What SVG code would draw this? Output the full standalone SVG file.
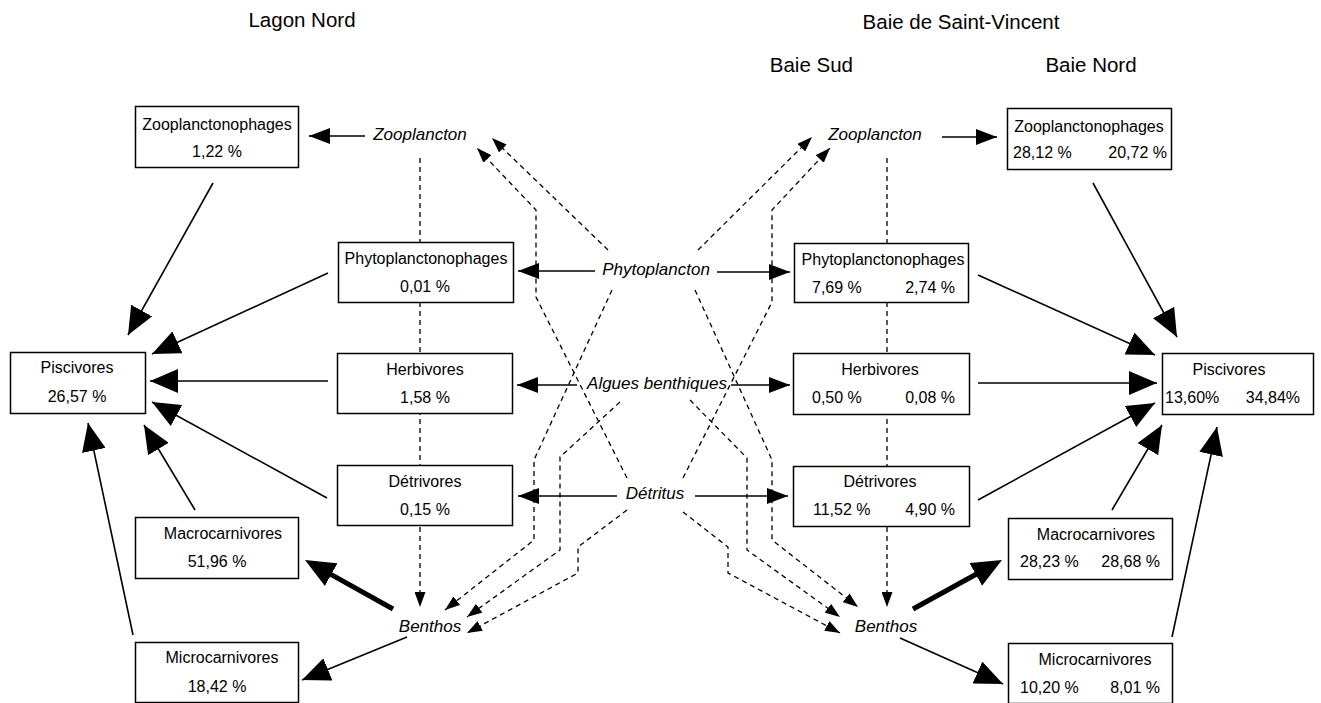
<svg xmlns="http://www.w3.org/2000/svg" width="1321" height="703" viewBox="0 0 1321 703">
<style>
text{font-family:"Liberation Sans",Arial,sans-serif;fill:#000}
.t{font-size:16px}
.h{font-size:20.5px}
.i{font-size:17px;font-style:italic}
.box{fill:#fff;stroke:#000;stroke-width:1.5}
.s{fill:none;stroke:#000;stroke-width:1.6}
.th{fill:none;stroke:#000;stroke-width:5}
.d{fill:none;stroke:#000;stroke-width:1.3;stroke-dasharray:5 4}
</style>
<defs>
<marker id="ab" markerUnits="userSpaceOnUse" markerWidth="28" markerHeight="24" refX="28" refY="12" orient="auto"><path d="M0,0 L28,12 L0,24 z"/></marker>
<marker id="at" markerUnits="userSpaceOnUse" markerWidth="30" markerHeight="26" refX="2" refY="13" orient="auto"><path d="M0,0 L30,13 L0,26 z"/></marker>
<marker id="am" markerUnits="userSpaceOnUse" markerWidth="21" markerHeight="16" refX="21" refY="8" orient="auto"><path d="M0,0 L21,8 L0,16 z"/></marker>
<marker id="as" markerUnits="userSpaceOnUse" markerWidth="15" markerHeight="11" refX="15" refY="5.5" orient="auto"><path d="M0,0 L15,5.5 L0,11 z"/></marker>
</defs>

<g id="headers">
<text class="h" x="302" y="27" text-anchor="middle">Lagon Nord</text>
<text class="h" x="961" y="29" text-anchor="middle">Baie de Saint-Vincent</text>
<text class="h" x="853" y="72" text-anchor="end">Baie Sud</text>
<text class="h" x="1091" y="72" text-anchor="middle">Baie Nord</text>
</g>

<g id="connectors">
<!-- dashed verticals -->
<path class="d" d="M420,158 V607" marker-end="url(#as)"/>
<path class="d" d="M887,158 V607" marker-end="url(#as)"/>
<!-- left dashed -->
<path class="d" d="M608,250 L492,138" marker-end="url(#as)"/>
<path class="d" d="M627,478 L536,297 L536,210 L477,148" marker-end="url(#as)"/>
<path class="d" d="M612,290 L534,460 L534,540 L445,610" marker-end="url(#as)"/>
<path class="d" d="M620,402 L560,457 L560,550 L467,617" marker-end="url(#as)"/>
<path class="d" d="M627,510 L578,547 L578,573 L467,633" marker-end="url(#as)"/>
<!-- right dashed -->
<path class="d" d="M698,250 L812,137" marker-end="url(#as)"/>
<path class="d" d="M683,478 L772,302 L772,210 L830,148" marker-end="url(#as)"/>
<path class="d" d="M695,290 L772,460 L772,540 L858,607" marker-end="url(#as)"/>
<path class="d" d="M690,400 L747,458 L747,550 L840,617" marker-end="url(#as)"/>
<path class="d" d="M683,512 L728,547 L728,573 L840,633" marker-end="url(#as)"/>
<!-- horizontal source arrows -->
<path class="s" d="M365,136 L309,136" marker-end="url(#am)"/>
<path class="s" d="M595,271 L518,271" marker-end="url(#am)"/>
<path class="s" d="M577,385 L517,385" marker-end="url(#am)"/>
<path class="s" d="M617,496 L518,496" marker-end="url(#am)"/>
<path class="s" d="M942,137 L997,137" marker-end="url(#am)"/>
<path class="s" d="M717,272 L790,272" marker-end="url(#am)"/>
<path class="s" d="M731,385 L790,385" marker-end="url(#am)"/>
<path class="s" d="M695,496 L788,496" marker-end="url(#am)"/>
<!-- left to piscivores -->
<path class="s" d="M213,183 L128,335" marker-end="url(#ab)"/>
<path class="s" d="M328,273 L152,354" marker-end="url(#ab)"/>
<path class="s" d="M328,381 L150,381" marker-end="url(#ab)"/>
<path class="s" d="M327,498 L152,402" marker-end="url(#ab)"/>
<path class="s" d="M195,510 L144,425" marker-end="url(#ab)"/>
<path class="s" d="M133,635 L88,423" marker-end="url(#ab)"/>
<path class="th" d="M393,609 L329.5,573.6" marker-end="url(#at)"/>
<path class="s" d="M407,637 L302,680" marker-end="url(#ab)"/>
<!-- right to piscivores -->
<path class="s" d="M1093,183 L1177,337" marker-end="url(#ab)"/>
<path class="s" d="M978,275 L1155,355" marker-end="url(#ab)"/>
<path class="s" d="M978,383 L1157,383" marker-end="url(#ab)"/>
<path class="s" d="M978,500 L1155,403" marker-end="url(#ab)"/>
<path class="s" d="M1112,510 L1162,425" marker-end="url(#ab)"/>
<path class="s" d="M1172,637 L1217,427" marker-end="url(#ab)"/>
<path class="th" d="M913,609 L977.5,573.5" marker-end="url(#at)"/>
<path class="s" d="M900,638 L1003,684" marker-end="url(#ab)"/>
</g>

<g id="src-zooplancton-l"><text class="i" x="420" y="140" text-anchor="middle">Zooplancton</text></g>
<g id="src-zooplancton-r"><text class="i" x="875" y="140" text-anchor="middle">Zooplancton</text></g>
<g id="src-phytoplancton"><text class="i" x="656" y="275" text-anchor="middle">Phytoplancton</text></g>
<g id="src-algues"><text class="i" x="657" y="389" text-anchor="middle">Algues benthiques</text></g>
<g id="src-detritus"><text class="i" x="655" y="499" text-anchor="middle">Détritus</text></g>
<g id="benthos-l"><text class="i" x="430" y="632" text-anchor="middle">Benthos</text></g>
<g id="benthos-r"><text class="i" x="886" y="632" text-anchor="middle">Benthos</text></g>

<!-- left nodes -->
<g id="zoo-l"><rect class="box" x="135.5" y="106.5" width="163" height="61"/>
<text class="t" x="217" y="130" text-anchor="middle">Zooplanctonophages</text>
<text class="t" x="217" y="157" text-anchor="middle">1,22 %</text></g>
<g id="phyto-l"><rect class="box" x="338.5" y="242.5" width="175" height="60"/>
<text class="t" x="426" y="264" text-anchor="middle">Phytoplanctonophages</text>
<text class="t" x="425" y="292" text-anchor="middle">0,01 %</text></g>
<g id="herb-l"><rect class="box" x="337.5" y="353.5" width="175" height="60"/>
<text class="t" x="425" y="375" text-anchor="middle">Herbivores</text>
<text class="t" x="425" y="403" text-anchor="middle">1,58 %</text></g>
<g id="det-l"><rect class="box" x="337.5" y="465.5" width="175" height="60"/>
<text class="t" x="425" y="487" text-anchor="middle">Détrivores</text>
<text class="t" x="425" y="515" text-anchor="middle">0,15 %</text></g>
<g id="pisc-l"><rect class="box" x="10.5" y="352.5" width="135" height="61"/>
<text class="t" x="77" y="373" text-anchor="middle">Piscivores</text>
<text class="t" x="77" y="402" text-anchor="middle">26,57 %</text></g>
<g id="macro-l"><rect class="box" x="135.5" y="517.5" width="163" height="61"/>
<text class="t" x="223" y="539" text-anchor="middle">Macrocarnivores</text>
<text class="t" x="217" y="567" text-anchor="middle">51,96 %</text></g>
<g id="micro-l"><rect class="box" x="135.5" y="642.5" width="163" height="60"/>
<text class="t" x="222" y="663" text-anchor="middle">Microcarnivores</text>
<text class="t" x="217" y="692" text-anchor="middle">18,42 %</text></g>

<!-- right nodes -->
<g id="zoo-r"><rect class="box" x="1007.5" y="108.5" width="164" height="61"/>
<text class="t" x="1089" y="132" text-anchor="middle">Zooplanctonophages</text>
<text class="t" x="1013" y="158">28,12 %</text>
<text class="t" x="1167" y="158" text-anchor="end">20,72 %</text></g>
<g id="phyto-r"><rect class="box" x="794.5" y="243.5" width="174" height="59"/>
<text class="t" x="883" y="265" text-anchor="middle">Phytoplanctonophages</text>
<text class="t" x="812" y="293">7,69 %</text>
<text class="t" x="955" y="293" text-anchor="end">2,74 %</text></g>
<g id="herb-r"><rect class="box" x="793.5" y="353.5" width="176" height="61"/>
<text class="t" x="880" y="375" text-anchor="middle">Herbivores</text>
<text class="t" x="812" y="403">0,50 %</text>
<text class="t" x="955" y="403" text-anchor="end">0,08 %</text></g>
<g id="det-r"><rect class="box" x="793.5" y="466.5" width="176" height="60"/>
<text class="t" x="880" y="487" text-anchor="middle">Détrivores</text>
<text class="t" x="813" y="515">11,52 %</text>
<text class="t" x="955" y="515" text-anchor="end">4,90 %</text></g>
<g id="pisc-r"><rect class="box" x="1162.5" y="353.5" width="151" height="61"/>
<text class="t" x="1229" y="375" text-anchor="middle">Piscivores</text>
<text class="t" x="1165" y="403">13,60%</text>
<text class="t" x="1300" y="403" text-anchor="end">34,84%</text></g>
<g id="macro-r"><rect class="box" x="1008.5" y="518.5" width="164" height="61"/>
<text class="t" x="1096" y="540" text-anchor="middle">Macrocarnivores</text>
<text class="t" x="1020" y="567">28,23 %</text>
<text class="t" x="1160" y="567" text-anchor="end">28,68 %</text></g>
<g id="micro-r"><rect class="box" x="1008.5" y="643.5" width="164" height="60"/>
<text class="t" x="1095" y="665" text-anchor="middle">Microcarnivores</text>
<text class="t" x="1020" y="693">10,20 %</text>
<text class="t" x="1160" y="693" text-anchor="end">8,01 %</text></g>
</svg>
